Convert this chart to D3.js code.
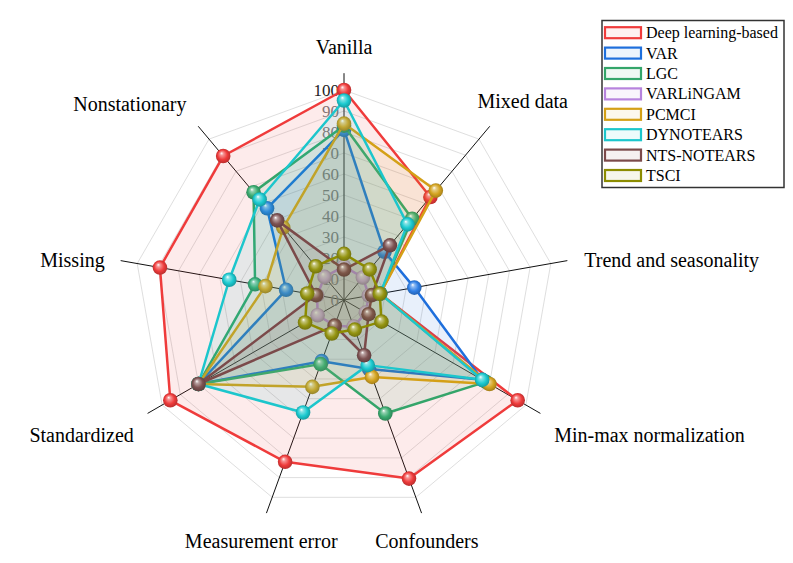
<!DOCTYPE html>
<html>
<head>
<meta charset="utf-8">
<script src="https://cdn.jsdelivr.net/npm/d3@7"></script>
<style>
  html, body { margin: 0; padding: 0; background: #fff; }
  svg { display: block; }
  text { font-family: "Liberation Serif", "Times New Roman", serif; }
</style>
</head>
<body>
<svg id="chart" width="793" height="563"></svg>
<script>
// ---------- data ----------
const categories = ["Vanilla", "Mixed data", "Trend and seasonality", "Min-max normalization",
  "Confounders", "Measurement error", "Standardized", "Missing", "Nonstationary"];
const seriesNames = ["Deep learning-based", "VAR", "LGC", "VARLiNGAM", "PCMCI", "DYNOTEARS", "NTS-NOTEARS", "TSCI"];
const deepLearning = [100, 64, 17.5, 95.5, 90.5, 82, 95.5, 89, 89.5];
const varValues    = [81, 30, 34, 76, 35, 31, 80, 28, 57];
const lgcValues    = [83, 50.5, 17.5, 78, 57.5, 32.5, 80, 43, 67];
const varlingam    = [16, 14, 12, 12, 13.5, 13, 14.5, 13, 14.4];
const pcmci        = [84, 68, 17.5, 80, 39, 44, 80, 38, 45];
const dynotears    = [95, 47, 17.5, 76, 33, 57, 80, 55.5, 62.5];
const ntsNotears   = [14.5, 34, 13.5, 13.5, 28, 13, 80, 13.5, 49.5];
const tsci         = [22, 19, 17.3, 20.6, 15, 17, 21.4, 17.8, 21];
const tickValues   = [0, 10, 20, 30, 40, 50, 60, 70, 80, 90, 100];

// ---------- styling / layout ----------
const colors = ["#ef3b3b", "#1e6fdc", "#34a56a", "#b783dd", "#d4a017", "#1cc6cc", "#7b4a4a", "#8c8c00"];
const markerColors = ["#ef3b3b", "#2f7fe6", "#3aab70", "#c9a7dc", "#d4a421", "#1ccad0", "#7d5252", "#959512"];
const allSeries = [deepLearning, varValues, lgcValues, varlingam, pcmci, dynotears, ntsNotears, tsci];
const cx = 344, cy = 300, R = 210;
// label anchor & nudges (layout only)
const labelLayout = [
  {anchor: "middle", dx: 0,   dy: -8},
  {anchor: "start",  dx: -24, dy: -11},
  {anchor: "start",  dx: -1,  dy: 2.5},
  {anchor: "start",  dx: -2,  dy: 12.5},
  {anchor: "middle", dx: -1,  dy: 11},
  {anchor: "middle", dx: 1,   dy: 11},
  {anchor: "end",    dx: 2,   dy: 12.5},
  {anchor: "end",    dx: 2,   dy: 2.5},
  {anchor: "end",    dx: 0,   dy: -8}
];

const svg = d3.select("#chart");
const n = categories.length;
const step = 2 * Math.PI / n;
const r = d3.scaleLinear().domain([0, 100]).range([0, R]);
const px = (a, rad) => cx + rad * Math.sin(a);
const py = (a, rad) => cy - rad * Math.cos(a);

// gradients for 3D sphere markers
const defs = svg.append("defs");
markerColors.forEach((c, i) => {
  const base = d3.color(c);
  const g = defs.append("radialGradient").attr("id", "ball" + i)
    .attr("cx", "50%").attr("cy", "50%").attr("r", "55%")
    .attr("fx", "38%").attr("fy", "30%");
  g.append("stop").attr("offset", "0%").attr("stop-color", "#ffffff");
  g.append("stop").attr("offset", "22%").attr("stop-color", d3.interpolateRgb("#ffffff", c)(0.55));
  g.append("stop").attr("offset", "60%").attr("stop-color", c);
  g.append("stop").attr("offset", "100%").attr("stop-color", base.darker(0.9).formatHex());
});

const root = svg.append("g").attr("transform", `translate(${cx},${cy})`);

// grid polygons
const gridLine = d3.lineRadial().angle((d, i) => i * step).radius(d => r(d)).curve(d3.curveLinearClosed);
tickValues.filter(t => t > 0).forEach(t => {
  root.append("path").attr("d", gridLine(categories.map(() => t)))
    .attr("fill", "none").attr("stroke", "#dadada").attr("stroke-width", 0.9);
});

// spokes
categories.forEach((c, i) => {
  const a = i * step;
  root.append("line")
    .attr("x1", 0).attr("y1", 0)
    .attr("x2", r(108) * Math.sin(a)).attr("y2", -r(108) * Math.cos(a))
    .attr("stroke", "#111").attr("stroke-width", 1);
});

// tick labels along Vanilla axis
root.selectAll("text.tick").data(tickValues).enter().append("text")
  .attr("class", "tick")
  .attr("x", -5).attr("y", d => -r(d))
  .attr("text-anchor", "end").attr("dominant-baseline", "central")
  .attr("font-size", 17).attr("fill", d => d === 100 ? "#222" : "#7a7a7a")
  .text(d => d);

// series
const seriesLine = d3.lineRadial().angle((d, i) => i * step).radius(d => r(d)).curve(d3.curveLinearClosed);
allSeries.forEach((vals, si) => {
  const g = root.append("g");
  g.append("path").attr("d", seriesLine(vals))
    .attr("fill", colors[si]).attr("fill-opacity", 0.1).attr("stroke", "none");
  g.append("path").attr("d", seriesLine(vals))
    .attr("fill", "none").attr("stroke", colors[si]).attr("stroke-width", 2.5)
    .attr("stroke-linejoin", "round");
  g.selectAll("circle").data(vals).enter().append("circle")
    .attr("cx", (d, i) => r(d) * Math.sin(i * step))
    .attr("cy", (d, i) => -r(d) * Math.cos(i * step))
    .attr("r", 7.3)
    .attr("fill", `url(#ball${si})`);
});

// axis labels
categories.forEach((c, i) => {
  const a = i * step;
  const L = labelLayout[i];
  svg.append("text")
    .attr("x", px(a, 245) + L.dx).attr("y", py(a, 245) + L.dy)
    .attr("text-anchor", L.anchor).attr("dominant-baseline", "central")
    .attr("font-size", 20).attr("fill", "#000")
    .text(c);
});

// legend
const lg = svg.append("g");
const lx = 602, ly = 20.5, lw = 182, lh = 167;
lg.append("rect").attr("x", lx).attr("y", ly).attr("width", lw).attr("height", lh)
  .attr("fill", "#fff").attr("stroke", "#333").attr("stroke-width", 1.5);
seriesNames.forEach((name, i) => {
  const yy = 32.7 + i * 20.4;
  lg.append("rect").attr("x", 605).attr("y", yy - 5.5).attr("width", 36).attr("height", 11)
    .attr("fill", colors[i]).attr("fill-opacity", 0.08)
    .attr("stroke", colors[i]).attr("stroke-width", 2.2);
  lg.append("text").attr("x", 646).attr("y", yy)
    .attr("dominant-baseline", "central").attr("font-size", 16).attr("fill", "#000")
    .text(name);
});
</script>
</body>
</html>
